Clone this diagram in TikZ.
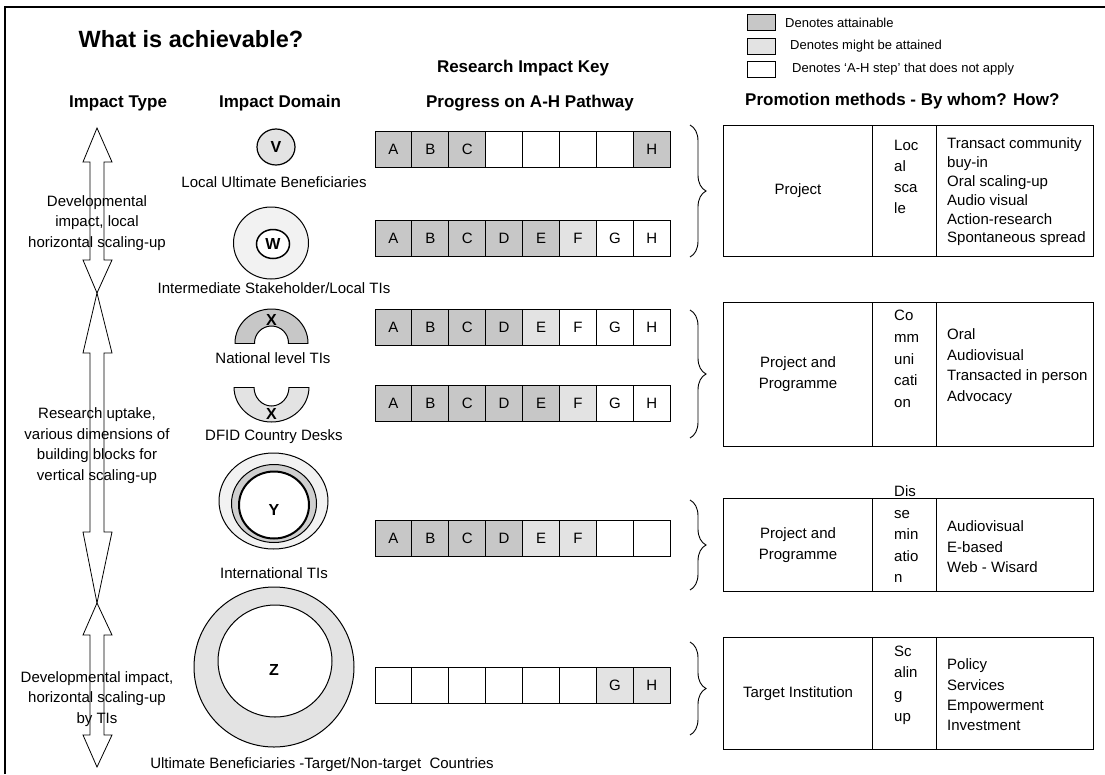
\documentclass[tikz,border=0pt]{standalone}
\usepackage{fontspec}
\setmainfont{Liberation Sans}
\usetikzlibrary{decorations.pathreplacing}
\definecolor{cg}{gray}{0.78}
\definecolor{cl}{gray}{0.89}
\definecolor{cvl}{gray}{0.95}
\begin{document}
\begin{tikzpicture}[x=1pt,y=-1pt,
  txt/.style={font=\fontsize{15}{20.5}\selectfont, inner sep=0, align=center},
  hdr/.style={font=\bfseries\fontsize{17}{20}\selectfont, inner sep=0},
  cell/.style={draw, line width=0.9pt, minimum width=36.9pt, minimum height=36pt, inner sep=0, font=\fontsize{15}{18}\selectfont},
  lbl/.style={font=\bfseries\fontsize{16}{18}\selectfont, inner sep=0},
  tcell/.style={draw, line width=1.1pt, inner sep=0, anchor=north west, align=center, font=\fontsize{15}{21}\selectfont},
  ttxt/.style={inner sep=0, anchor=west, align=left},
  brc/.style={decorate, decoration={brace, amplitude=16pt}, line width=0.9pt},
  barrow/.style={draw, line width=0.8pt, fill=white},
  leg/.style={draw, line width=0.9pt, minimum width=28pt, minimum height=16pt, inner sep=0},
  legt/.style={inner sep=0, anchor=west, font=\fontsize{13}{15}\selectfont}]
\useasboundingbox (0,0) rectangle (1105,774);
% frame
\draw[line width=2.5pt] (5,774) -- (5,7) -- (1105,7);

% title and headers
\node[inner sep=0, font=\bfseries\fontsize{23.5}{26}\selectfont] (title) at (191,39) {What is achievable?};
\node[hdr] (h1) at (118,103) {Impact Type};
\node[hdr] (h2) at (280,103) {Impact Domain};
\node[hdr] (h3) at (523,68) {Research Impact Key};
\node[hdr] (h4) at (530,103) {Progress on A-H Pathway};
\node[hdr, anchor=west] (h5) at (745,101) {Promotion methods - By whom? How?};

% legend
\node[leg, fill=cg] (lg1) at (761,22.5) {};
\node[leg, fill=cl] (lg2) at (761,46) {};
\node[leg, fill=white] (lg3) at (761,69) {};
\node[legt] (lt1) at (785,23) {Denotes attainable};
\node[legt] (lt2) at (790,46) {Denotes might be attained};
\node[legt] (lt3) at (792,69) {Denotes ‘A-H step’ that does not apply};

% impact type arrows
\draw[barrow] (97,128) -- (112,162) -- (104,162) -- (104,260) -- (112,260) -- (97,293) -- (83,260) -- (90,260) -- (90,162) -- (83,162) -- cycle;
\draw[barrow] (97,293) -- (112,353) -- (104,353) -- (104,532) -- (112,532) -- (97,603) -- (83,532) -- (90,532) -- (90,353) -- (83,353) -- cycle;
\draw[barrow] (97,603) -- (112,635) -- (104,635) -- (104,735) -- (112,735) -- (97,767) -- (83,735) -- (90,735) -- (90,635) -- (83,635) -- cycle;
\node[txt] (it1) at (97,222.7) {Developmental\\impact, local\\horizontal scaling-up};
\node[txt] (it2) at (97,445.5) {Research uptake,\\various dimensions of\\building blocks for\\vertical scaling-up};
\node[txt] (it3) at (97,699) {Developmental impact,\\horizontal scaling-up\\by TIs};

% impact domains
% V
\draw[fill=cl, line width=1.2pt] (276,147) ellipse [x radius=19, y radius=18];
\node[lbl] (dv) at (276,147) {V};
\node[txt] (lv) at (274,182) {Local Ultimate Beneficiaries};
% W
\draw[fill=cvl, line width=1pt] (271,243) ellipse [x radius=37.5, y radius=36];
\draw[fill=white, line width=1.5pt] (273,244) ellipse [x radius=16.5, y radius=14.5];
\node[lbl] (dw) at (273,244) {W};
\node[txt] (lw) at (274,288) {Intermediate Stakeholder/Local TIs};
% X upper
\begin{scope}
  \clip (225,300) rectangle (320,343);
  \draw[fill=cg, even odd rule, line width=1pt] (271.5,343) ellipse [x radius=36.5, y radius=34] (271.5,343) ellipse [x radius=17, y radius=17];
\end{scope}
\draw[line width=1pt] (235,343) -- (254.5,343) (288.5,343) -- (308,343);
\node[lbl] (dx1) at (271.5,320) {X};
\node[txt] (lx1) at (273,358) {National level TIs};
% X lower
\begin{scope}
  \clip (225,387) rectangle (320,432);
  \draw[fill=cl, even odd rule, line width=1pt] (271.5,387) ellipse [x radius=37.5, y radius=35] (271.5,387) ellipse [x radius=17.5, y radius=19];
\end{scope}
\draw[line width=1pt] (234,387) -- (254,387) (289,387) -- (309,387);
\node[lbl] (dx2) at (271.5,414) {X};
\node[txt] (lx2) at (274,437) {DFID Country Desks};
% Y
\draw[fill=cvl, line width=1pt] (273.5,501) ellipse [x radius=54.5, y radius=48];
\draw[fill=cg!85, line width=1pt] (274,503.5) ellipse [x radius=42.5, y radius=39];
\draw[fill=white, line width=2pt] (274,505) ellipse [x radius=35, y radius=33.5];
\node[lbl] (dy) at (274,510) {Y};
\node[txt] (ly) at (274,573) {International TIs};
% Z
\draw[fill=cl, line width=1pt] (274,667) ellipse [x radius=80, y radius=80];
\draw[fill=white, line width=1pt] (275,661) ellipse [x radius=57, y radius=56];
\node[lbl] (dz) at (274,670) {Z};
\node[txt] (lz) at (322,765) {Ultimate Beneficiaries -Target/Non-target\ \ Countries};

% progress rows
\foreach \f/\l [count=\i] in {cg/A,cg/B,cg/C,white/{},white/{},white/{},white/{},cg/H}
  \node[cell, fill=\f] (ra\i) at ({393.45+36.9*(\i-1)},149.5) {\l};
\foreach \f/\l [count=\i] in {cg/A,cg/B,cg/C,cg/D,cg/E,cl/F,white/G,white/H}
  \node[cell, fill=\f] (rb\i) at ({393.45+36.9*(\i-1)},238.5) {\l};
\foreach \f/\l [count=\i] in {cg/A,cg/B,cg/C,cg/D,cl/E,white/F,white/G,white/H}
  \node[cell, fill=\f] (rc\i) at ({393.45+36.9*(\i-1)},327.5) {\l};
\foreach \f/\l [count=\i] in {cg/A,cg/B,cg/C,cg/D,cg/E,cl/F,white/G,white/H}
  \node[cell, fill=\f] (rd\i) at ({393.45+36.9*(\i-1)},403) {\l};
\foreach \f/\l [count=\i] in {cg/A,cg/B,cg/C,cg/D,cl/E,cl/F,white/{},white/{}}
  \node[cell, fill=\f] (re\i) at ({393.45+36.9*(\i-1)},538) {\l};
\foreach \f/\l [count=\i] in {white/{},white/{},white/{},white/{},white/{},white/{},cl/G,cl/H}
  \node[cell, fill=\f] (rf\i) at ({393.45+36.9*(\i-1)},685) {\l};

% braces
\draw[brc] (690,125) -- (690,257);
\draw[brc] (690,310) -- (690,438);
\draw[brc] (690,500) -- (690,590);
\draw[brc] (690,642) -- (690,735);

% promotion tables
% table 1
\node[tcell, minimum width=149pt, minimum height=131pt] (t1a) at (723,125) {Project};
\node[tcell, minimum width=64pt, minimum height=131pt] (t1b) at (872,125) {};
\node[tcell, minimum width=157pt, minimum height=131pt] (t1c) at (936,125) {};
\node[ttxt, font=\fontsize{15}{21}\selectfont] (s1) at (894,177) {Loc\\al\\sca\\le};
\node[ttxt, font=\fontsize{15}{18.8}\selectfont] (m1) at (947,192) {Transact community\\buy-in\\Oral scaling-up\\Audio visual\\Action-research\\Spontaneous spread};
% table 2
\node[tcell, minimum width=149pt, minimum height=144pt] (t2a) at (723,302) {Project and\\Programme};
\node[tcell, minimum width=64pt, minimum height=144pt] (t2b) at (872,302) {};
\node[tcell, minimum width=157pt, minimum height=144pt] (t2c) at (936,302) {};
\node[ttxt, font=\fontsize{15}{21.7}\selectfont] (s2) at (894,359) {Co\\mm\\uni\\cati\\on};
\node[ttxt, font=\fontsize{15}{20.7}\selectfont] (m2) at (947,366.5) {Oral\\Audiovisual\\Transacted in person\\Advocacy};
% table 3
\node[tcell, minimum width=149pt, minimum height=93pt] (t3a) at (723,498) {Project and\\Programme};
\node[tcell, minimum width=64pt, minimum height=93pt] (t3b) at (872,498) {};
\node[tcell, minimum width=157pt, minimum height=93pt] (t3c) at (936,498) {};
\node[ttxt, font=\fontsize{15}{21.5}\selectfont] (s3) at (894,534.5) {Dis\\se\\min\\atio\\n};
\node[ttxt, font=\fontsize{15}{20.5}\selectfont] (m3) at (947,547) {Audiovisual\\E-based\\Web - Wisard};
% table 4
\node[tcell, minimum width=149pt, minimum height=112pt] (t4a) at (723,637) {Target Institution};
\node[tcell, minimum width=64pt, minimum height=112pt] (t4b) at (872,637) {};
\node[tcell, minimum width=157pt, minimum height=112pt] (t4c) at (936,637) {};
\node[ttxt, font=\fontsize{15}{21.7}\selectfont] (s4) at (894,685) {Sc\\alin\\g\\up};
\node[ttxt, font=\fontsize{15}{20.3}\selectfont] (m4) at (947,695) {Policy\\Services\\Empowerment\\Investment};
\end{tikzpicture}
\end{document}
